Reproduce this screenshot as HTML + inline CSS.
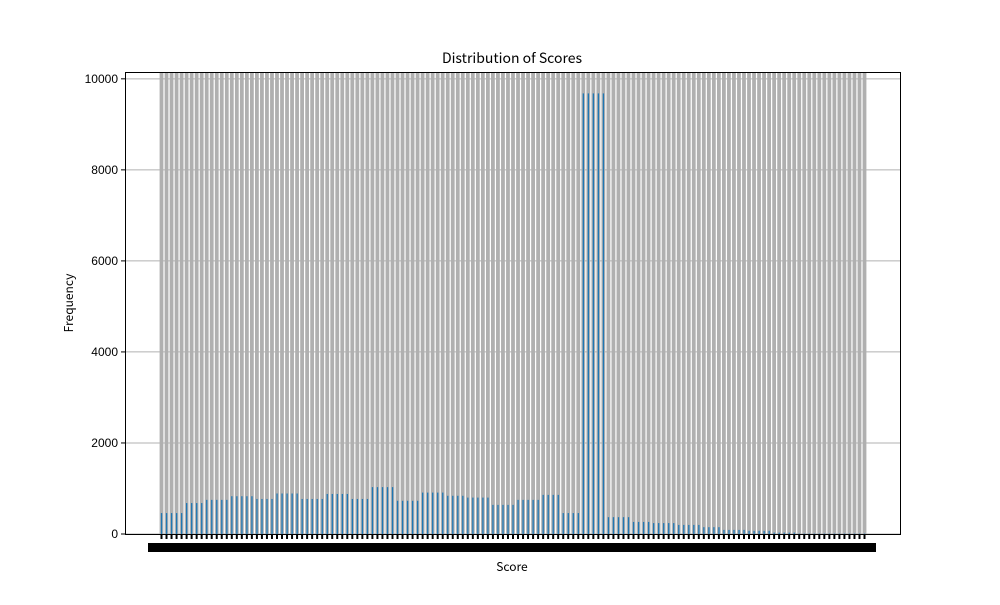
<!DOCTYPE html>
<html><head><meta charset="utf-8"><style>
body{margin:0;background:#fff;}
svg text{font-family:"Liberation Sans","WenQuanYi Zen Hei",sans-serif;}
svg text.cjk{font-family:"WenQuanYi Zen Hei","Noto Sans CJK SC",sans-serif;}
</style></head><body>
<svg id="chart" width="1000" height="600" xmlns="http://www.w3.org/2000/svg">
<rect x="0" y="0" width="1000" height="600" fill="#fff"/>
<g id="grid"></g><g id="bars"></g>
<rect x="148" y="543" width="728" height="9" fill="#000"/>
<g id="xt"></g><g id="yt"></g>
<rect x="125.5" y="72.5" width="775" height="462" fill="none" stroke="#000" stroke-width="1"/>
<text class="cjk" x="512" y="63" text-anchor="middle" font-size="14">Distribution of Scores</text>
<text class="cjk" x="512" y="571" text-anchor="middle" font-size="12">Score</text>
<text class="cjk" x="73" y="303" text-anchor="middle" font-size="12" transform="rotate(-90 73 303)">Frequency</text>
</svg>
<script>
const counts=[460,460,460,460,460,680,680,680,680,750,750,750,750,750,830,830,830,830,830,770,770,770,770,890,890,890,890,890,770,770,770,770,770,880,880,880,880,880,770,770,770,770,1030,1030,1030,1030,1030,730,730,730,730,730,910,910,910,910,910,840,840,840,840,800,800,800,800,800,640,640,640,640,640,750,750,750,750,750,860,860,860,860,460,460,460,460,9680,9680,9680,9680,9680,370,370,370,370,370,265,265,265,265,240,240,240,240,240,200,200,200,200,200,150,150,150,150,90,90,90,90,90,70,70,70,70,70,30,30,30,30,30,10,10,10,10,10,10,10,10,10,10,10,10,10,10];
const yTicks=[0,2000,4000,6000,8000,10000];
const NS="http://www.w3.org/2000/svg";
const x0=161.5,x1=864.5,yBase=534,yTop=72,yMax=10150;
const n=counts.length;
function xs(i){return x0+(x1-x0)*i/(n-1);}
function ys(v){return yBase-(yBase-yTop)*v/yMax;}
function mk(tag,a,p){const e=document.createElementNS(NS,tag);for(const k in a)e.setAttribute(k,a[k]);document.getElementById(p).appendChild(e);return e;}
yTicks.forEach(v=>{
  const l=mk('line',{x1:125,x2:900,y1:ys(v),y2:ys(v),stroke:'#b0b0b0','stroke-width':1},'grid');
  
  
  const t=mk('line',{x1:121,x2:125,y1:ys(v),y2:ys(v),stroke:'#000'},'yt');
  
  
  const tx=mk('text',{x:118,y:ys(v)+4,'text-anchor':'end','font-size':12},'yt');
  tx.textContent=v;
  
  
});
counts.forEach((c,i)=>{
  const x=xs(i);
  const g=mk('rect',{x:x-1.9,y:yTop,width:3.8,height:yBase-yTop,fill:'#b0b0b0'},'grid');
  
  
  const b=mk('rect',{x:x-0.6,y:ys(c),width:1.3,height:yBase-ys(c),fill:'#1f77b4'},'bars');
  
  
  const t=mk('line',{x1:x,x2:x,y1:535,y2:539,stroke:'#000','stroke-width':2},'xt');
  
  
  const lab=(87.2-i*0.6).toFixed(1);
  const tx=mk('text',{x:x,y:552,'text-anchor':'middle','font-size':12,'font-weight':'bold'},'xt');
  tx.textContent=lab;
  
  
});
</script>
</body></html>
